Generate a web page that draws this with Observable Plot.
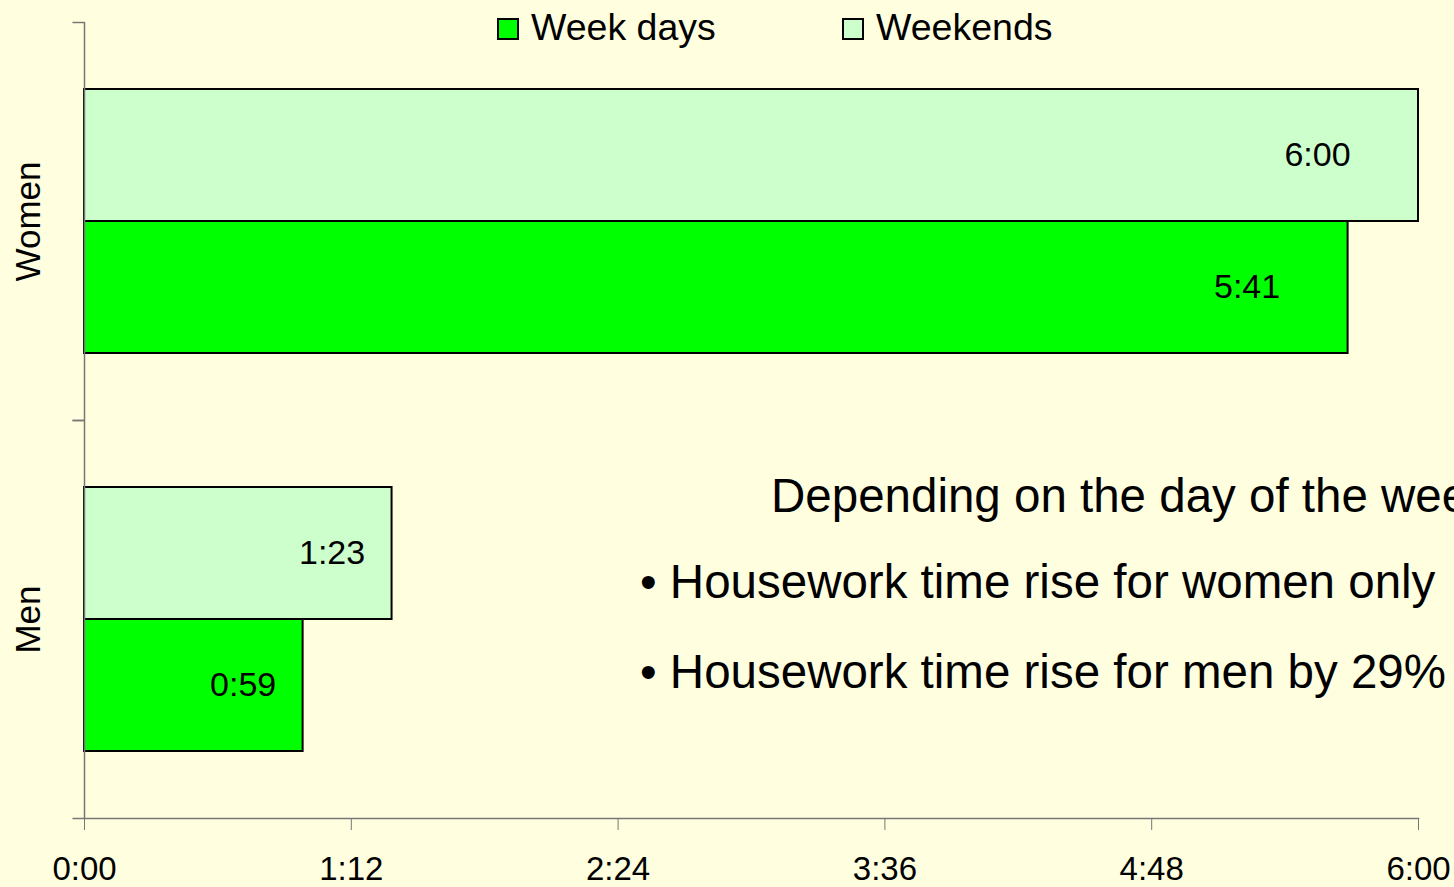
<!DOCTYPE html>
<html>
<head>
<meta charset="utf-8">
<script src="https://cdn.jsdelivr.net/npm/d3@7"></script>
<script src="https://cdn.jsdelivr.net/npm/@observablehq/plot@0.6"></script>
<style>
  html, body { margin: 0; padding: 0; background: #FFFFE0; overflow: hidden; }
  #wrap { position: relative; width: 1454px; height: 887px; overflow: hidden;
          font-family: "Liberation Sans", Arial, sans-serif; color: #000; }
  #chart { position: absolute; left: 0; top: 0; }
  .lg-swatch { position: absolute; box-sizing: border-box; width: 22px; height: 22px; border: 2px solid #000; }
  .lg-text { position: absolute; font-size: 37.5px; line-height: 1; white-space: nowrap; }
  .note { position: absolute; font-size: 47.5px; line-height: 1; white-space: nowrap; }
</style>
</head>
<body>
<div id="wrap">
  <div id="chart"></div>
  <div id="legend"></div>
  <div id="notes"></div>
</div>
<script>
// ---- data ----
const genders = ["Women", "Men"];
const seriesNames = ["Week days", "Weekends"];
const seriesColors = ["#00FF00", "#CCFFCC"];
const weekdayMinutes = [341, 59];   // 5:41, 0:59
const weekendMinutes = [360, 83];   // 6:00, 1:23
const xTickValues = [0, 72, 144, 216, 288, 360];
const xTickLabels = ["0:00", "1:12", "2:24", "3:36", "4:48", "6:00"];
const noteLines = [
  "Depending on the day of the week:",
  "\u2022 Housework time rise for women only",
  "\u2022 Housework time rise for men by 29%"
];

const fmt = m => `${Math.floor(m / 60)}:${String(m % 60).padStart(2, "0")}`;

const rows = [];
genders.forEach((g, i) => {
  rows.push({gender: g, series: "Weekends", minutes: weekendMinutes[i]});
  rows.push({gender: g, series: "Week days", minutes: weekdayMinutes[i]});
});

const axisGray = "#777";
const tickSymbol = {
  draw(ctx, size) {
    const r = Math.sqrt(size / Math.PI);
    ctx.moveTo(-r, 0);
    ctx.lineTo(r, 0);
  }
};

const plot = Plot.plot({
  width: 1454,
  height: 887,
  marginLeft: 84,
  marginRight: 36,
  marginTop: 22,
  marginBottom: 69,
  style: {background: "transparent", fontFamily: "'Liberation Sans', Arial, sans-serif", overflow: "visible"},
  x: {domain: [0, 360], axis: null},
  y: {domain: ["Weekends", "Week days"], paddingInner: 0, paddingOuter: 0.5, axis: null},
  fy: {domain: genders, padding: 0, axis: null},
  color: {domain: seriesNames, range: seriesColors},
  marks: [
    Plot.barX(rows, {fy: "gender", y: "series", x: "minutes", fill: "series", stroke: "#000", strokeWidth: 2}),
    Plot.ruleX([0], {stroke: axisGray, strokeWidth: 1.5}),
    Plot.frame({anchor: "bottom", facetAnchor: "bottom", stroke: axisGray, strokeWidth: 1.5}),
    Plot.dot([0], {frameAnchor: "top-left", symbol: tickSymbol, r: 6, dx: -6, stroke: axisGray, fill: "none", strokeWidth: 1.5}),
    Plot.dot([0], {frameAnchor: "bottom-left", symbol: tickSymbol, r: 6, dx: -6, stroke: axisGray, fill: "none", strokeWidth: 1.5}),
    Plot.axisX({
      ticks: xTickValues,
      tickFormat: d => xTickLabels[xTickValues.indexOf(d)],
      tickSize: 12,
      tickPadding: 26,
      fontSize: 33,
      stroke: axisGray,
      fill: "#000",
      label: null
    }),
    Plot.text(rows.filter(d => d.gender === "Women"), {
      fy: "gender", y: "series", x: "minutes", text: d => fmt(d.minutes),
      dx: -101, fontSize: 34, fill: "#000"
    }),
    Plot.text(rows.filter(d => d.gender === "Men"), {
      fy: "gender", y: "series", x: "minutes", text: d => fmt(d.minutes),
      dx: -60, fontSize: 34, fill: "#000"
    }),
    Plot.text(genders, {
      fy: d => d, text: d => d, frameAnchor: "left", textAnchor: "middle", lineAnchor: "middle",
      rotate: -90, dx: -56, fontSize: 35, fill: "#000"
    })
  ]
});
document.getElementById("chart").appendChild(plot);

// ---- legend ----
const legend = document.getElementById("legend");
const legendLeft = [497, 842];
seriesNames.forEach((name, i) => {
  const sw = document.createElement("div");
  sw.className = "lg-swatch";
  sw.style.left = legendLeft[i] + "px";
  sw.style.top = "18px";
  sw.style.background = seriesColors[i];
  legend.appendChild(sw);
  const t = document.createElement("div");
  t.className = "lg-text";
  t.style.left = (legendLeft[i] + 34) + "px";
  t.style.top = "9px";
  t.textContent = name;
  legend.appendChild(t);
});

// ---- annotation ----
const notes = document.getElementById("notes");
const noteLeft = [771, 640, 640];
const noteTop = [472, 558, 648];
noteLines.forEach((line, i) => {
  const d = document.createElement("div");
  d.className = "note";
  d.style.left = noteLeft[i] + "px";
  d.style.top = noteTop[i] + "px";
  d.textContent = line;
  notes.appendChild(d);
});
</script>
</body>
</html>
